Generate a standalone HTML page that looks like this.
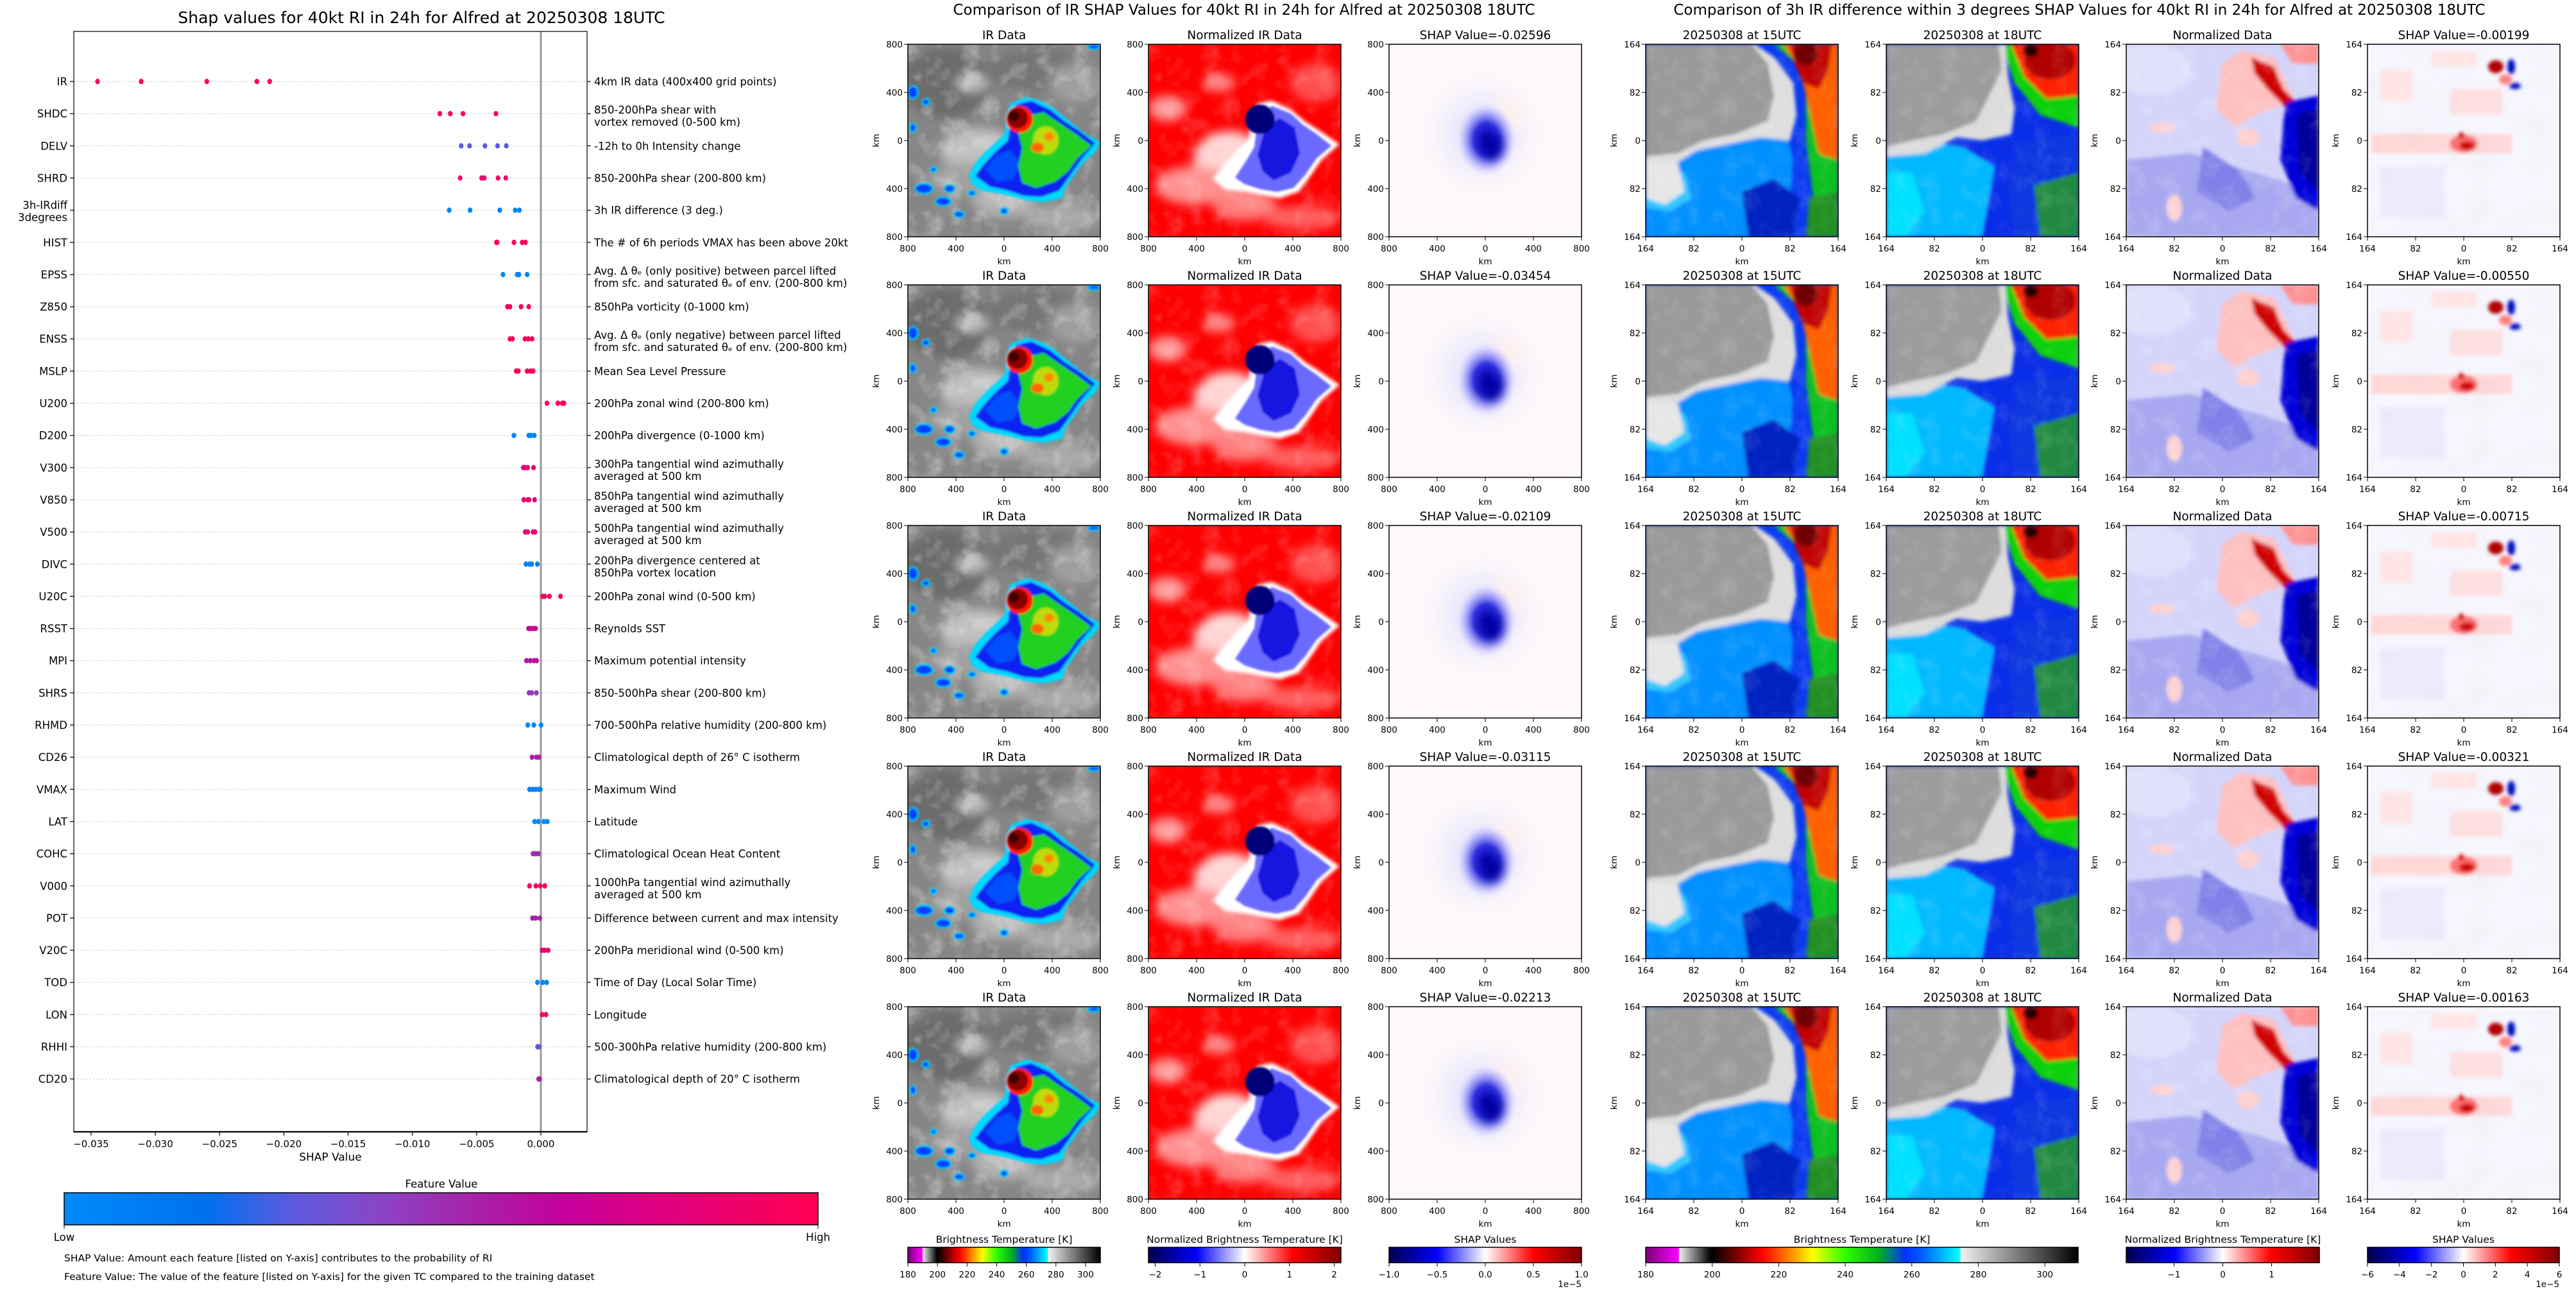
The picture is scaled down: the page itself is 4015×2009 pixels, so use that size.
<!DOCTYPE html>
<html><head><meta charset="utf-8"><title>Alfred SHAP</title>
<style>html,body{margin:0;padding:0;background:#fff;}svg{display:block;font-family:"DejaVu Sans","Liberation Sans",sans-serif;}</style>
</head><body>
<svg id="fig" width="4015" height="2009" viewBox="0 0 4015 2009" xmlns="http://www.w3.org/2000/svg">
<defs>
<filter id="b1" x="-20%" y="-20%" width="140%" height="140%"><feGaussianBlur stdDeviation="1.5"/></filter>
<filter id="b3" x="-20%" y="-20%" width="140%" height="140%"><feGaussianBlur stdDeviation="3"/></filter>
<filter id="b8" x="-50%" y="-50%" width="200%" height="200%"><feGaussianBlur stdDeviation="8"/></filter>
<filter id="b15" x="-50%" y="-50%" width="200%" height="200%"><feGaussianBlur stdDeviation="15"/></filter>
<filter id="cloud" x="0" y="0" width="100%" height="100%">
  <feTurbulence type="fractalNoise" baseFrequency="0.035" numOctaves="3" seed="4"/>
  <feColorMatrix type="matrix" values="0 0 0 0 1  0 0 0 0 1  0 0 0 0 1  1.6 0 0 0 -0.75"/>
</filter>
<filter id="cloudDark" x="0" y="0" width="100%" height="100%">
  <feTurbulence type="fractalNoise" baseFrequency="0.02" numOctaves="2" seed="9"/>
  <feColorMatrix type="matrix" values="0 0 0 0 0.3  0 0 0 0 0.3  0 0 0 0 0.3  1.5 0 0 0 -0.7"/>
</filter>
<radialGradient id="shapBlob" cx="0.5" cy="0.5" r="0.5"><stop offset="0" stop-color="#0000b0"/><stop offset="0.4" stop-color="#3030e0"/><stop offset="0.75" stop-color="#b8b8ff" stop-opacity="0.6"/><stop offset="1" stop-color="#ffffff" stop-opacity="0"/></radialGradient>
<radialGradient id="halo" cx="0.5" cy="0.5" r="0.5"><stop offset="0" stop-color="#d0d0ff"/><stop offset="1" stop-color="#ffffff" stop-opacity="0"/></radialGradient>
<linearGradient id="cbShap" x1="0" x2="1"><stop offset="0" stop-color="#008bfb"/><stop offset="0.19" stop-color="#0070ee"/><stop offset="0.3" stop-color="#5a5ae0"/><stop offset="0.42" stop-color="#8a45c4"/><stop offset="0.55" stop-color="#a820a8"/><stop offset="0.66" stop-color="#c4009c"/><stop offset="0.8" stop-color="#e0007e"/><stop offset="1" stop-color="#ff0052"/></linearGradient>
<linearGradient id="cbBT" x1="0" x2="1">
<stop offset="0" stop-color="#7a007a"/><stop offset="0.0765" stop-color="#ff00ff"/><stop offset="0.077" stop-color="#f0f0f0"/><stop offset="0.146" stop-color="#101010"/><stop offset="0.154" stop-color="#000000"/><stop offset="0.269" stop-color="#ff0000"/><stop offset="0.33" stop-color="#ff8000"/><stop offset="0.385" stop-color="#ffff00"/><stop offset="0.46" stop-color="#30ff00"/><stop offset="0.54" stop-color="#00b020"/><stop offset="0.6" stop-color="#0030ff"/><stop offset="0.64" stop-color="#0060ff"/><stop offset="0.725" stop-color="#00ffff"/><stop offset="0.73" stop-color="#f0f0f0"/><stop offset="1" stop-color="#000000"/></linearGradient>
<linearGradient id="cbSeis" x1="0" x2="1"><stop offset="0" stop-color="#00004c"/><stop offset="0.25" stop-color="#0000ff"/><stop offset="0.5" stop-color="#ffffff"/><stop offset="0.75" stop-color="#ff0000"/><stop offset="1" stop-color="#800000"/></linearGradient>

<symbol id="irImg" viewBox="0 0 300 300">
<rect width="300" height="300" fill="#868686"/>
<g filter="url(#b8)">
<ellipse cx="60" cy="60" rx="70" ry="55" fill="#6c6c6c"/>
<ellipse cx="200" cy="40" rx="80" ry="35" fill="#767676"/>
<ellipse cx="110" cy="165" rx="60" ry="35" fill="#c0c0c0"/>
<ellipse cx="150" cy="240" rx="50" ry="30" fill="#b5b5b5"/>
<ellipse cx="90" cy="210" rx="60" ry="25" fill="#a0a0a0"/>
<ellipse cx="240" cy="270" rx="60" ry="20" fill="#aaaaaa"/>
<ellipse cx="260" cy="60" rx="40" ry="30" fill="#9e9e9e"/>
<ellipse cx="100" cy="60" rx="25" ry="14" fill="#bdbdbd"/>
</g>
<rect width="300" height="300" filter="url(#cloud)" opacity="0.55"/>
<g filter="url(#b1)">
<path d="M95,205 L105,185 L120,168 L140,150 L152,138 L152,112 L160,92 L185,82 L205,88 L225,98 L242,112 L262,128 L280,142 L300,152 L292,168 L272,186 L258,206 L246,222 L240,240 L212,246 L188,244 L165,238 L140,232 L115,228 L100,218 Z" fill="#00d8ff"/>
<path d="M105,205 L118,188 L136,168 L156,150 L160,120 L168,94 L192,88 L222,102 L244,120 L266,134 L292,154 L270,180 L252,206 L236,228 L208,238 L180,236 L156,228 L128,222 Z" fill="#0a20f0"/>
<path d="M120,195 L140,172 L160,165 L175,185 L165,210 L140,215 Z" fill="#0050ff"/>
<path d="M182,112 L212,106 L238,124 L262,140 L286,158 L264,178 L250,198 L230,214 L200,224 L178,216 L172,190 L178,162 L172,138 Z" fill="#20d020"/>
<ellipse cx="215" cy="150" rx="20" ry="22" fill="#ffe000" opacity="0.7"/>
<ellipse cx="202" cy="161" rx="10" ry="8" fill="#ff6a00"/>
<ellipse cx="220" cy="144" rx="8" ry="7" fill="#ff8c00"/>
<circle cx="174" cy="117" r="21" fill="#ff1a00"/>
<circle cx="171" cy="115" r="16" fill="#8a0000"/>
<circle cx="165" cy="112" r="8" fill="#3a0000"/>
</g>
<g fill="#0040ff" stroke="#00e0ff" stroke-width="2" filter="url(#b1)">
<ellipse cx="25" cy="225" rx="14" ry="8"/><ellipse cx="55" cy="245" rx="12" ry="7"/><ellipse cx="65" cy="225" rx="8" ry="6"/><ellipse cx="8" cy="75" rx="8" ry="10"/><ellipse cx="28" cy="90" rx="6" ry="5"/><ellipse cx="80" cy="265" rx="8" ry="5"/><ellipse cx="150" cy="260" rx="6" ry="5"/><ellipse cx="290" cy="4" rx="10" ry="4"/><ellipse cx="8" cy="130" rx="5" ry="7"/><ellipse cx="40" cy="195" rx="5" ry="4"/><ellipse cx="100" cy="232" rx="6" ry="4"/>
</g>
</symbol>

<symbol id="normImg" viewBox="0 0 300 300">
<rect width="300" height="300" fill="#ff0000"/>
<g filter="url(#b8)">
<ellipse cx="125" cy="180" rx="55" ry="45" fill="#ffd4d4"/>
<ellipse cx="70" cy="220" rx="60" ry="30" fill="#ff9090"/>
<ellipse cx="150" cy="250" rx="50" ry="25" fill="#ff8080"/>
<ellipse cx="30" cy="100" rx="30" ry="20" fill="#ff9a9a"/>
<ellipse cx="240" cy="270" rx="60" ry="18" fill="#ff6060"/>
<ellipse cx="110" cy="60" rx="25" ry="14" fill="#ff8a8a"/>
<ellipse cx="260" cy="60" rx="40" ry="30" fill="#ff5050"/>
</g>
<rect width="300" height="300" filter="url(#cloud)" opacity="0.3"/>
<g filter="url(#b3)">
<path d="M100,210 L120,186 L140,163 L156,148 L160,118 L170,92 L192,88 L222,102 L244,120 L266,134 L298,156 L270,180 L252,206 L234,230 L205,240 L180,236 L150,230 L120,226 Z" fill="#ffffff"/>
</g>
<g filter="url(#b1)">
<path d="M135,208 L152,182 L165,160 L170,120 L192,96 L222,108 L240,125 L262,140 L285,158 L262,178 L244,204 L226,224 L200,230 L175,226 L150,218 Z" fill="#6a6aff"/>
<path d="M170,172 L182,130 L205,115 L228,130 L236,170 L222,200 L195,212 L178,198 Z" fill="#1818e0"/>
<circle cx="174" cy="117" r="23" fill="#00007a"/>
</g>
</symbol>

<symbol id="shapImg" viewBox="0 0 300 300">
<rect width="300" height="300" fill="#fff8f8"/>
<ellipse cx="145" cy="140" rx="120" ry="120" fill="url(#halo)"/>
<ellipse cx="185" cy="110" rx="25" ry="25" fill="#fff0f0" filter="url(#b8)"/>
<ellipse cx="152" cy="148" rx="50" ry="62" fill="url(#shapBlob)"/>
<ellipse cx="160" cy="160" rx="16" ry="20" fill="#0000a0" filter="url(#b8)"/>
</symbol>

<symbol id="r15" viewBox="0 0 300 300">
<rect width="300" height="300" fill="#0a3af0"/>
<g filter="url(#b3)">
<path d="M0,170 L40,165 L70,140 L100,130 L140,120 L200,110 L220,140 L230,180 L220,300 L0,300 Z" fill="#0090ff"/>
<path d="M0,190 L60,200 L70,240 L40,260 L0,255 Z" fill="#30c8ff"/>
<path d="M200,0 L300,0 L300,300 L270,300 L260,230 L250,150 L250,70 L235,30 Z" fill="#10c020"/>
<path d="M215,0 L300,0 L300,180 L270,170 L255,100 L240,40 Z" fill="#ff6000"/>
<path d="M225,0 L290,0 L285,40 L270,70 L245,60 L232,30 Z" fill="#c00000"/>
<ellipse cx="250" cy="15" rx="18" ry="18" fill="#700000"/>
<path d="M0,0 L170,0 L200,20 L230,60 L235,110 L225,150 L180,145 L130,155 L80,165 L40,190 L0,200 Z" fill="#dedede"/>
<path d="M0,0 L165,0 L190,30 L200,80 L190,120 L140,140 L90,150 L50,170 L0,175 Z" fill="#9a9a9a"/>
<path d="M0,180 L50,185 L60,230 L30,250 L0,240 Z" fill="#e6e6e6"/>
<path d="M150,230 L200,210 L240,240 L230,300 L160,300 Z" fill="#0020c0"/>
<path d="M255,240 L300,230 L300,300 L250,300 Z" fill="#209020"/>
</g>
<rect width="300" height="300" filter="url(#cloud)" opacity="0.2"/>
</symbol>

<symbol id="r18" viewBox="0 0 300 300">
<rect width="300" height="300" fill="#0a2ee8"/>
<g filter="url(#b3)">
<path d="M0,160 L60,150 L120,160 L170,190 L150,300 L0,300 Z" fill="#00b8ff"/>
<path d="M0,200 L40,200 L60,260 L30,300 L0,300 Z" fill="#00e0ff"/>
<path d="M180,0 L300,0 L300,130 L240,110 L200,60 Z" fill="#10d010"/>
<path d="M195,0 L300,0 L300,80 L250,85 L215,50 Z" fill="#ff2000"/>
<ellipse cx="255" cy="25" rx="40" ry="30" fill="#b00000"/>
<ellipse cx="225" cy="10" rx="12" ry="10" fill="#200000"/>
<path d="M0,0 L185,0 L190,50 L200,100 L195,140 L150,150 L110,145 L60,170 L0,175 Z" fill="#dcdcdc"/>
<path d="M0,0 L175,0 L180,40 L160,80 L140,120 L90,140 L40,150 L0,160 Z" fill="#9c9c9c"/>
<path d="M210,150 L300,140 L300,300 L200,300 L190,220 Z" fill="#0838e0"/>
<path d="M230,220 L300,200 L300,300 L240,300 Z" fill="#208a40"/>
</g>
<rect width="300" height="300" filter="url(#cloud)" opacity="0.2"/>
</symbol>

<symbol id="rNorm" viewBox="0 0 300 300">
<rect width="300" height="300" fill="#d4d4fa"/>
<g filter="url(#b3)">
<path d="M0,180 L100,170 L200,200 L300,230 L300,300 L0,300 Z" fill="#a8a8f0"/>
<path d="M120,160 L180,200 L200,240 L160,260 L110,230 Z" fill="#8080e8"/>
<path d="M150,30 L180,10 L230,20 L260,80 L230,100 L200,110 L170,130 L140,100 Z" fill="#ffc0c0"/>
<path d="M195,20 L230,35 L245,70 L265,90 L250,100 L220,70 L200,45 Z" fill="#d00000"/>
<path d="M240,0 L300,0 L300,30 L260,30 Z" fill="#ff9090"/>
<path d="M250,90 L300,80 L300,260 L265,240 L240,180 L245,120 Z" fill="#0000d8"/>
<path d="M265,110 L300,100 L300,230 L270,200 Z" fill="#00009a"/>
<ellipse cx="55" cy="130" rx="20" ry="8" fill="#ffd0d0"/>
<ellipse cx="190" cy="145" rx="18" ry="14" fill="#ffd0d0"/>
<ellipse cx="75" cy="255" rx="12" ry="20" fill="#ffd0d0"/>
<ellipse cx="40" cy="40" rx="60" ry="40" fill="#e0e0fb"/>
</g>
<rect width="300" height="300" filter="url(#cloud)" opacity="0.25"/>
</symbol>

<symbol id="rShap" viewBox="0 0 300 300">
<rect width="300" height="300" fill="#f6f6fe"/>
<g filter="url(#b3)">
<rect x="5" y="140" width="220" height="30" fill="#ffd8d8"/>
<rect x="130" y="70" width="80" height="40" fill="#ffe0e0"/>
<rect x="20" y="40" width="50" height="50" fill="#ffe6e6"/>
<rect x="100" y="10" width="70" height="25" fill="#ffe6e6"/>
<rect x="20" y="190" width="100" height="80" fill="#ececfc"/>
<ellipse cx="150" cy="155" rx="22" ry="14" fill="#ff7070"/>
<ellipse cx="155" cy="158" rx="12" ry="7" fill="#d00000"/>
<ellipse cx="146" cy="142" rx="5" ry="5" fill="#d00000"/>
<ellipse cx="200" cy="35" rx="12" ry="10" fill="#b00000"/>
<ellipse cx="224" cy="35" rx="6" ry="12" fill="#0010c0"/>
<ellipse cx="230" cy="65" rx="9" ry="5" fill="#0010c0"/>
<ellipse cx="215" cy="55" rx="10" ry="8" fill="#ff8080"/>
</g>
<rect width="300" height="300" filter="url(#cloudDark)" opacity="0.08"/>
</symbol>
</defs>
<g id="root"></g>
</svg>
<script>
// ---------- Beeswarm data ----------
const features = ["IR","SHDC","DELV","SHRD","3h-IRdiff\n3degrees","HIST","EPSS","Z850","ENSS","MSLP","U200","D200","V300","V850","V500","DIVC","U20C","RSST","MPI","SHRS","RHMD","CD26","VMAX","LAT","COHC","V000","POT","V20C","TOD","LON","RHHI","CD20"];
const descriptions = ["4km IR data (400x400 grid points)","850-200hPa shear with\nvortex removed (0-500 km)","-12h to 0h Intensity change","850-200hPa shear (200-800 km)","3h IR difference (3 deg.)","The # of 6h periods VMAX has been above 20kt","Avg. \u0394 \u03b8\u2091 (only positive) between parcel lifted\nfrom sfc. and saturated \u03b8\u2091 of env. (200-800 km)","850hPa vorticity (0-1000 km)","Avg. \u0394 \u03b8\u2091 (only negative) between parcel lifted\nfrom sfc. and saturated \u03b8\u2091 of env. (200-800 km)","Mean Sea Level Pressure","200hPa zonal wind (200-800 km)","200hPa divergence (0-1000 km)","300hPa tangential wind azimuthally\naveraged at 500 km","850hPa tangential wind azimuthally\naveraged at 500 km","500hPa tangential wind azimuthally\naveraged at 500 km","200hPa divergence centered at\n850hPa vortex location","200hPa zonal wind (0-500 km)","Reynolds SST","Maximum potential intensity","850-500hPa shear (200-800 km)","700-500hPa relative humidity (200-800 km)","Climatological depth of 26\u00b0 C isotherm","Maximum Wind","Latitude","Climatological Ocean Heat Content","1000hPa tangential wind azimuthally\naveraged at 500 km","Difference between current and max intensity","200hPa meridional wind (0-500 km)","Time of Day (Local Solar Time)","Longitude","500-300hPa relative humidity (200-800 km)","Climatological depth of 20\u00b0 C isotherm"];
const shapValues = [
 [-0.0345,-0.0311,-0.0260,-0.0221,-0.0211],
 [-0.00786,-0.00705,-0.00606,-0.0035],
 [-0.0062,-0.00555,-0.00435,-0.00337,-0.00269],
 [-0.00628,-0.00461,-0.0044,-0.00333,-0.00273],
 [-0.00713,-0.00551,-0.0032,-0.002,-0.00167],
 [-0.00346,-0.0034,-0.00209,-0.00145,-0.0012],
 [-0.00295,-0.00184,-0.0017,-0.00107],
 [-0.0026,-0.0024,-0.00154,-0.00094],
 [-0.0024,-0.0022,-0.00124,-0.00098,-0.00068],
 [-0.00192,-0.00175,-0.00107,-0.00081,-0.0006],
 [0.00047,0.00132,0.00167,0.0018],
 [-0.0021,-0.00094,-0.00077,-0.00051],
 [-0.00137,-0.00122,-0.00102,-0.00057],
 [-0.00133,-0.00102,-0.00092,-0.00049],
 [-0.00122,-0.00102,-0.00061,-0.00045],
 [-0.00116,-0.00088,-0.00071,-0.00027],
 [0.00014,0.00031,0.00067,0.00153],
 [-0.00096,-0.00078,-0.00057,-0.00041],
 [-0.00112,-0.00082,-0.00053,-0.00033],
 [-0.00092,-0.00071,-0.00035],
 [-0.00102,-0.00055,0.00002],
 [-0.00069,-0.00035,-0.00014],
 [-0.00088,-0.00065,-0.00041,-0.00016,-0.00004],
 [-0.00049,-0.0002,0.00024,0.00051],
 [-0.00061,-0.00041,-0.0002],
 [-0.00088,-0.00039,-0.00004,0.00031],
 [-0.00065,-0.00041,-0.00008],
 [0.0001,0.00031,0.00057],
 [-0.00027,0.00014,0.00045],
 [0.0001,0.0004],
 [-0.00026,-0.00013],
 [-0.00017,-0.0001]];
const featureValues = [1.0,0.95,0.3,0.9,0.05,1.0,0.05,0.95,0.95,0.95,1.0,0.05,0.85,0.85,0.85,0.08,0.97,0.7,0.6,0.45,0.05,0.55,0.05,0.02,0.5,0.95,0.55,0.85,0.03,0.95,0.3,0.58];
const xTickValues = [-0.035,-0.030,-0.025,-0.020,-0.015,-0.010,-0.005,0.000];
const xTickLabels = ["\u22120.035","\u22120.030","\u22120.025","\u22120.020","\u22120.015","\u22120.010","\u22120.005","0.000"];
const leftTitles = ["SHAP Value=-0.02596","SHAP Value=-0.03454","SHAP Value=-0.02109","SHAP Value=-0.03115","SHAP Value=-0.02213"];
const rightTitles = ["SHAP Value=-0.00199","SHAP Value=-0.00550","SHAP Value=-0.00715","SHAP Value=-0.00321","SHAP Value=-0.00163"];
const btTicks = [180,200,220,240,260,280,300];
const normTicksL = [-2,-1,0,1,2];
const normTicksR = [-1,0,1];
const shapTicksL = [-1.0,-0.5,0.0,0.5,1.0];
const shapTicksR = [-6,-4,-2,0,2,4,6];

const NS = "http://www.w3.org/2000/svg";
const root = document.getElementById("root");
function mk(tag, attrs, parent, txt){
  const e = document.createElementNS(NS, tag);
  for (const k in attrs) e.setAttribute(k, attrs[k]);
  if (txt !== undefined) e.textContent = txt;
  (parent || root).appendChild(e);
  return e;
}
function tag(e, name, inter){
  
  
}

const cmStops = [[0,[0,139,251]],[0.19,[0,112,238]],[0.3,[90,90,224]],[0.42,[138,69,196]],[0.55,[168,32,168]],[0.66,[196,0,156]],[0.8,[224,0,126]],[1,[255,0,82]]];
function cmap(v){
  for (let i=1;i<cmStops.length;i++){
    if (v <= cmStops[i][0]){
      const a=cmStops[i-1], b=cmStops[i], t=(v-a[0])/(b[0]-a[0]);
      const c=a[1].map((x,j)=>Math.round(x+(b[1][j]-x)*t));
      return "rgb("+c.join(",")+")";
    }
  }
  return "rgb(255,0,82)";
}

// ---------- Left beeswarm ----------
const AX = {l:115, r:915, t:49, b:1764};
const xScale = v => 843 + (v - 0) * (843 - 142) / 0.035;
const yScale = i => 127 + i * 50.15;

let t = mk("text",{x:657,y:36,"font-size":25,"text-anchor":"middle"},root,"Shap values for 40kt RI in 24h for Alfred at 20250308 18UTC");
tag(t,'beeswarm-title',false);

const gBee = mk("g",{});
tag(gBee,'beeswarm-plot',false);

features.forEach((f,i)=>{
  const y = yScale(i);
  const gl = mk("line",{x1:AX.l,x2:AX.r,y1:y,y2:y,stroke:"#cccccc","stroke-width":1.2,"stroke-dasharray":"2,3"},gBee);
  
  
});
const zl = mk("line",{x1:xScale(0),x2:xScale(0),y1:AX.t,y2:AX.b,stroke:"#999999","stroke-width":3},gBee);
tag(zl,'zero-line',false);

features.forEach((f,i)=>{
  const y = yScale(i);
  mk("line",{x1:AX.l-6,x2:AX.l,y1:y,y2:y,stroke:"#000","stroke-width":1.2},gBee);
  const lines = f.split("\n");
  const lab = mk("text",{x:AX.l-10,y:lines.length>1? y-2 : y+6,"font-size":16.5,"text-anchor":"end"},gBee);
  
  
  lines.forEach((ln,k)=>{ mk("tspan",{x:AX.l-10,dy:k?19:0},lab,ln); });
  mk("line",{x1:AX.r,x2:AX.r+6,y1:y,y2:y,stroke:"#000","stroke-width":1.2},gBee);
  const dl = descriptions[i].split("\n");
  const dlab = mk("text",{x:AX.r+11,y:dl.length>1? y+0 : y+6,"font-size":16.5},gBee);
  
  
  dl.forEach((ln,k)=>{ mk("tspan",{x:AX.r+11,dy:k?19:0},dlab,ln); });
  shapValues[i].forEach(v=>{
    const d = mk("ellipse",{cx:xScale(v),cy:y,rx:3.6,ry:4.2,fill:cmap(featureValues[i])},gBee);
    
    
  });
});
const frame = mk("rect",{x:AX.l,y:AX.t,width:AX.r-AX.l,height:AX.b-AX.t,fill:"none",stroke:"#000","stroke-width":1.2},gBee);
tag(frame,'beeswarm-axes-frame',false);
mk("line",{x1:AX.l,x2:AX.r,y1:AX.b,y2:AX.b,stroke:"#000","stroke-width":2.2},gBee);
xTickValues.forEach((v,k)=>{
  const x = xScale(v);
  mk("line",{x1:x,x2:x,y1:AX.b,y2:AX.b+6,stroke:"#000","stroke-width":1.2},gBee);
  const tl = mk("text",{x:x,y:AX.b+24,"font-size":15,"text-anchor":"middle"},gBee,xTickLabels[k]);
  
  
});
t = mk("text",{x:515,y:1809,"font-size":17,"text-anchor":"middle"},root,"SHAP Value");
tag(t,'x-axis-title',false);

t = mk("text",{x:688,y:1851,"font-size":16.5,"text-anchor":"middle"},root,"Feature Value");
tag(t,'colorbar-title',false);
let cb = mk("rect",{x:100,y:1859,width:1175,height:50,fill:"url(#cbShap)",stroke:"#000","stroke-width":1.5});
tag(cb,'feature-value-colorbar',false);
mk("line",{x1:100,x2:100,y1:1909,y2:1915,stroke:"#000"}); mk("line",{x1:1275,x2:1275,y1:1909,y2:1915,stroke:"#000"});
t = mk("text",{x:100,y:1934,"font-size":16.5,"text-anchor":"middle"},root,"Low"); tag(t,'colorbar-low-label',false);
t = mk("text",{x:1275,y:1934,"font-size":16.5,"text-anchor":"middle"},root,"High"); tag(t,'colorbar-high-label',false);
t = mk("text",{x:100,y:1966,"font-size":15.5},root,"SHAP Value: Amount each feature [listed on Y-axis] contributes to the probability of RI"); tag(t,'footnote-shap-value',false);
t = mk("text",{x:100,y:1995,"font-size":15.5},root,"Feature Value: The value of the feature [listed on Y-axis] for the given TC compared to the training dataset"); tag(t,'footnote-feature-value',false);

// ---------- Image panels ----------
t = mk("text",{x:1939,y:23,"font-size":23,"text-anchor":"middle"},root,"Comparison of IR SHAP Values for 40kt RI in 24h for Alfred at 20250308 18UTC");
tag(t,'ir-comparison-title',false);
t = mk("text",{x:3241,y:23,"font-size":23,"text-anchor":"middle"},root,"Comparison of 3h IR difference within 3 degrees SHAP Values for 40kt RI in 24h for Alfred at 20250308 18UTC");
tag(t,'irdiff-comparison-title',false);

function panel(x, y, sym, title, ticks, name){
  const g = mk("g",{});
  
  
  mk("use",{href:"#"+sym,x:x,y:y,width:300,height:300},g);
  mk("rect",{x:x,y:y,width:300,height:300,fill:"none",stroke:"#000","stroke-width":1.5},g);
  const tt = mk("text",{x:x+150,y:y-8,"font-size":18.5,"text-anchor":"middle"},g,title);
  
  
  ticks.forEach((lb,k)=>{
    const p = k*75;
    mk("line",{x1:x+p,x2:x+p,y1:y+300,y2:y+306,stroke:"#000"},g);
    mk("text",{x:x+p,y:y+323,"font-size":13.5,"text-anchor":"middle"},g,lb);
    mk("line",{x1:x-6,x2:x,y1:y+p,y2:y+p,stroke:"#000"},g);
    mk("text",{x:x-8,y:y+p+5,"font-size":13.5,"text-anchor":"end"},g,lb);
  });
  mk("text",{x:x+150,y:y+343,"font-size":13.5,"text-anchor":"middle"},g,"km");
  mk("text",{x:0,y:0,"font-size":13.5,"text-anchor":"middle",transform:"translate("+(x-45)+","+(y+150)+") rotate(-90)"},g,"km");
}
const kmL = ["800","400","0","400","800"];
const kmR = ["164","82","0","82","164"];
for (let r=0;r<5;r++){
  const y = 69 + r*375;
  panel(1415,y,"irImg","IR Data",kmL,"ir-data-panel-"+(r+1));
  panel(1790,y,"normImg","Normalized IR Data",kmL,"normalized-ir-panel-"+(r+1));
  panel(2165,y,"shapImg",leftTitles[r],kmL,"ir-shap-panel-"+(r+1));
  panel(2565,y,"r15","20250308 at 15UTC",kmR,"ir-15utc-panel-"+(r+1));
  panel(2940,y,"r18","20250308 at 18UTC",kmR,"ir-18utc-panel-"+(r+1));
  panel(3314,y,"rNorm","Normalized Data",kmR,"normalized-diff-panel-"+(r+1));
  panel(3690,y,"rShap",rightTitles[r],kmR,"diff-shap-panel-"+(r+1));
}

// ---------- Bottom colorbars ----------
function fmt(v, oneDec){
  const s = oneDec ? Math.abs(v).toFixed(1) : String(Math.abs(v));
  return (v<0?"\u2212":"") + s;
}
function colorbar(x, w, grad, title, ticks, vmin, vmax, name, expo, oneDec){
  const g = mk("g",{});
  
  
  mk("text",{x:x+w/2,y:1937,"font-size":15.5,"text-anchor":"middle"},g,title);
  mk("rect",{x:x,y:1944,width:w,height:24,fill:"url(#"+grad+")",stroke:"#000","stroke-width":1.5},g);
  ticks.forEach(v=>{
    const px = x + (v - vmin)/(vmax - vmin)*w;
    mk("line",{x1:px,x2:px,y1:1968,y2:1974,stroke:"#000"},g);
    mk("text",{x:px,y:1991,"font-size":13.5,"text-anchor":"middle"},g,fmt(v,oneDec));
  });
  if (expo) mk("text",{x:x+w,y:2006,"font-size":13.5,"text-anchor":"end"},g,"1e\u22125");
}
colorbar(1415,300,"cbBT","Brightness Temperature [K]",btTicks,180,310,"bt-colorbar-left",false,false);
colorbar(1790,300,"cbSeis","Normalized Brightness Temperature [K]",normTicksL,-2.15,2.15,"norm-colorbar-left",false,false);
colorbar(2165,300,"cbSeis","SHAP Values",shapTicksL,-1,1,"shap-left-colorbar",true,true);
colorbar(2565,674,"cbBT","Brightness Temperature [K]",btTicks,180,310,"bt-colorbar-right",false,false);
colorbar(3314,301,"cbSeis","Normalized Brightness Temperature [K]",normTicksR,-1.98,1.98,"norm-colorbar-right",false,false);
colorbar(3690,299,"cbSeis","SHAP Values",shapTicksR,-6,6,"shap-right-colorbar",true,false);
</script>
</body></html>
